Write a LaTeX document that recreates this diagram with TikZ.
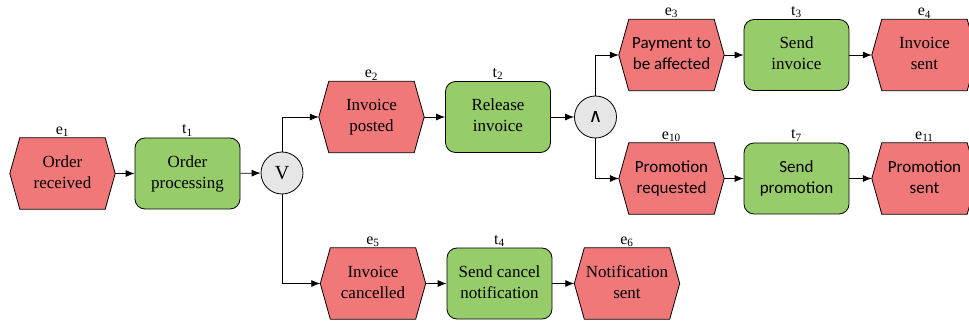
\documentclass[tikz,border=0pt]{standalone}
\usepackage{graphicx}
\usepackage{fontspec}
\setmainfont{Liberation Serif}
\newfontfamily\timesfont{Liberation Serif}
\newfontfamily\calfont{Carlito}
\newfontfamily\opfont{DejaVu Sans}
\usetikzlibrary{arrows.meta,backgrounds}

\definecolor{evtred}{HTML}{F17878}
\definecolor{fnggreen}{HTML}{96CC6A}
\definecolor{opgrey}{HTML}{E6E6E6}

% two centred lines, set at 10pt and enlarged
\newcommand{\twoline}[2]{\scalebox{1.7}{\fontsize{10}{12.35}\selectfont
  \begin{tabular}{@{}c@{}}#1\\#2\end{tabular}}}
% element identifiers above the shapes
\newcommand{\ident}[2]{\scalebox{1.6}{\fontsize{10}{12}\selectfont #1\textsubscript{#2}}}

\tikzset{
  box/.style={minimum width=105pt, minimum height=71pt, inner sep=0pt, align=center,
    font=\timesfont},
  event/.style={box, draw=none},
  func/.style={box, draw=black, line width=0.8pt, fill=fnggreen, rounded corners=10pt},
  sans/.style={font=\calfont},
  oper/.style={circle, draw=black, line width=0.8pt, fill=opgrey, minimum size=42pt, inner sep=0pt,
    font=\timesfont\fontsize{10}{12}\selectfont},
  hexfill/.style={draw=black, line width=0.8pt, fill=evtred},
  tag/.style={label={[inner sep=0pt, label distance=1pt, font=\timesfont]above:#1}},
  flow/.style={draw=black, line width=0.8pt, -{Latex[length=9pt,width=7pt]}},
}

\begin{document}
\begin{tikzpicture}[x=1pt,y=-1pt]
\useasboundingbox (0,0) rectangle (969,323);
\clip (0,0) rectangle (969,323);

% main chain
\node[event, tag={\ident{e}{1}}] (e1) at (62.5,173.5) {\twoline{Order}{received}};
\node[func, tag={\ident{t}{1}}] (t1) at (187.5,173.5) {\twoline{Order}{processing}};
\node[oper] (xor) at (282,173) {\scalebox{2}{V}};

% upper branch
\node[event, tag={\ident{e}{2}}] (e2) at (371.5,117) {\twoline{Invoice}{posted}};
\node[func, tag={\ident{t}{2}}] (t2) at (498,117) {\twoline{Release}{invoice}};
\node[oper, font=\opfont\fontsize{19}{20}\selectfont] (and) at (595.5,117) {∧};

\node[event, sans, tag={\ident{e}{3}}] (e3) at (671.5,55) {\twoline{Payment to}{be affected}};
\node[func, tag={\ident{t}{3}}] (t3) at (796.5,55) {\twoline{Send}{invoice}};
\node[event, tag={\ident{e}{4}}] (e4) at (924.5,55) {\twoline{Invoice}{sent}};

\node[event, sans, tag={\ident{e}{10}}] (e10) at (671.5,178.5) {\twoline{Promotion}{requested}};
\node[func, sans, tag={\ident{t}{7}}] (t7) at (796.5,178.5) {\twoline{Send}{promotion}};
\node[event, sans, tag={\ident{e}{11}}] (e11) at (924.5,178.5) {\twoline{Promotion}{sent}};

% lower branch
\node[event, tag={\ident{e}{5}}] (e5) at (373,283.5) {\twoline{Invoice}{cancelled}};
\node[func, tag={\ident{t}{4}}] (t4) at (499.5,283.5) {\twoline{Send cancel}{notification}};
\node[event, tag={\ident{e}{6}}] (e6) at (627,283.5) {\twoline{Notification}{sent}};

% hexagonal event outlines behind the texts
\begin{scope}[on background layer]
\foreach \n in {e1,e2,e3,e4,e10,e11,e5,e6}{
  \path[hexfill] (\n.west) -- ([xshift=10pt]\n.north west) -- ([xshift=-10pt]\n.north east)
    -- (\n.east) -- ([xshift=-10pt]\n.south east) -- ([xshift=10pt]\n.south west) -- cycle;
}
\end{scope}

% control flow
\draw[flow] (e1) -- (t1);
\draw[flow] (t1) -- (xor);
\draw[flow] (xor.north) |- (e2.west);
\draw[flow] (xor.south) |- (e5.west);
\draw[flow] (e2) -- (t2);
\draw[flow] (t2) -- (and);
\draw[flow] (and.north) |- (e3.west);
\draw[flow] (and.south) |- (e10.west);
\draw[flow] (e3) -- (t3);
\draw[flow] (t3) -- (e4);
\draw[flow] (e10) -- (t7);
\draw[flow] (t7) -- (e11);
\draw[flow] (e5) -- (t4);
\draw[flow] (t4) -- (e6);
\end{tikzpicture}
\end{document}
